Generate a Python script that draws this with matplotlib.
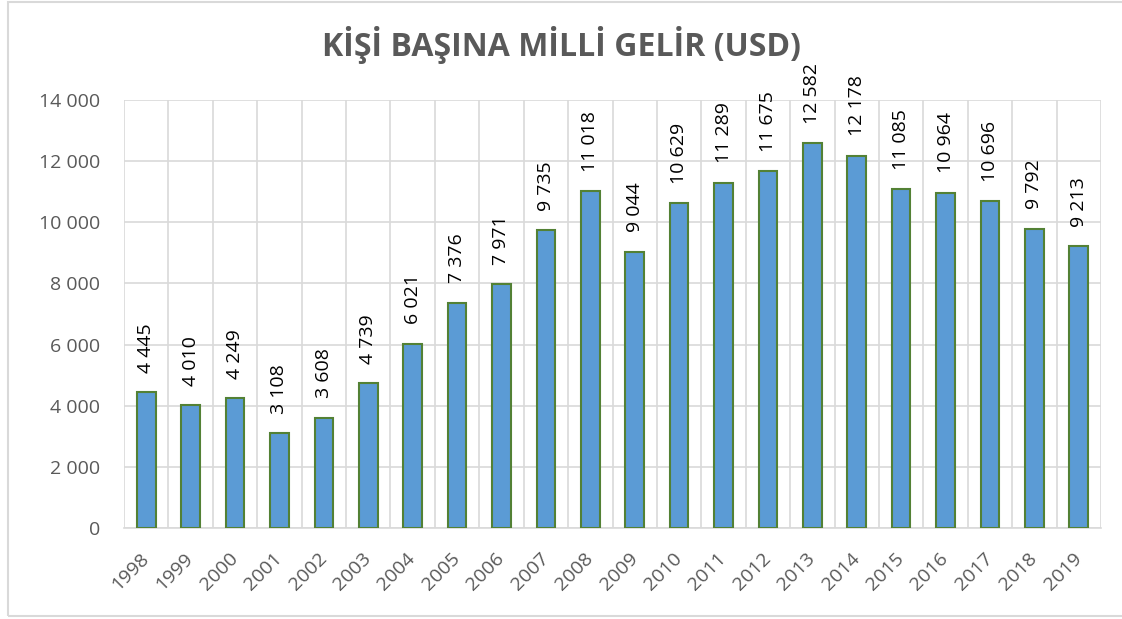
import matplotlib
matplotlib.use("Agg")
import matplotlib.pyplot as plt
from matplotlib.patches import Rectangle
from matplotlib.ticker import FuncFormatter, MultipleLocator

years = [str(y) for y in range(1998, 2020)]
values = [4445, 4010, 4249, 3108, 3608, 4739, 6021, 7376, 7971, 9735, 11018,
          9044, 10629, 11289, 11675, 12582, 12178, 11085, 10964, 10696, 9792, 9213]
title = "KİŞİ BAŞINA MİLLİ GELİR (USD)"

plt.rcParams['font.family'] = ['Open Sans', 'DejaVu Sans']

fig = plt.figure(figsize=(11.22, 6.19), dpi=100)
ax = fig.add_axes([124/1122, 1-528/619, (1101-124)/1122, (528-100)/619])

x = list(range(len(years)))
ax.bar(x, values, width=0.42, color="#5B9BD5", edgecolor="#538135", linewidth=1.5, zorder=3)

def fmt(v):
    return f"{int(v):,}".replace(",", " ")

for xi, v in zip(x, values):
    ax.annotate(fmt(v), (xi, v), xytext=(0, 14), textcoords="offset points",
                rotation=90, ha="center", va="bottom", fontsize=14, color="black",
                annotation_clip=False, clip_on=False)

ax.set_xlim(-0.5, len(years) - 0.5)
ax.set_ylim(0, 14000)
ax.yaxis.set_major_locator(MultipleLocator(2000))
ax.yaxis.set_major_formatter(FuncFormatter(lambda v, p: fmt(v)))
ax.set_xticks(x)
ax.set_xticklabels(years, rotation=45, ha="right", va="center", rotation_mode="anchor")

# vertical gridlines at category boundaries
for b in range(len(years) + 1):
    ax.axvline(b - 0.5, color="#D9D9D9", linewidth=1.2, zorder=1)
ax.yaxis.grid(True, color="#D9D9D9", linewidth=1.2, zorder=1)
ax.set_axisbelow(True)

for s in ["top", "right", "left"]:
    ax.spines[s].set_visible(False)
ax.spines["bottom"].set_color("#D9D9D9")
ax.spines["bottom"].set_linewidth(1.2)
ax.tick_params(axis="both", length=0, labelsize=14, colors="#595959")
ax.tick_params(axis="y", pad=17)
ax.tick_params(axis="x", pad=20)

fig.text(0.5, 1-45/619, title, ha="center", va="center", fontsize=23,
         fontweight="bold", color="#595959")

fig.patches.append(Rectangle((8/1122, 1-616/619), 1200/1122, 614/619,
                             transform=fig.transFigure, fill=False,
                             edgecolor="#D9D9D9", linewidth=1.5))

fig.savefig("out.png", dpi=100)
